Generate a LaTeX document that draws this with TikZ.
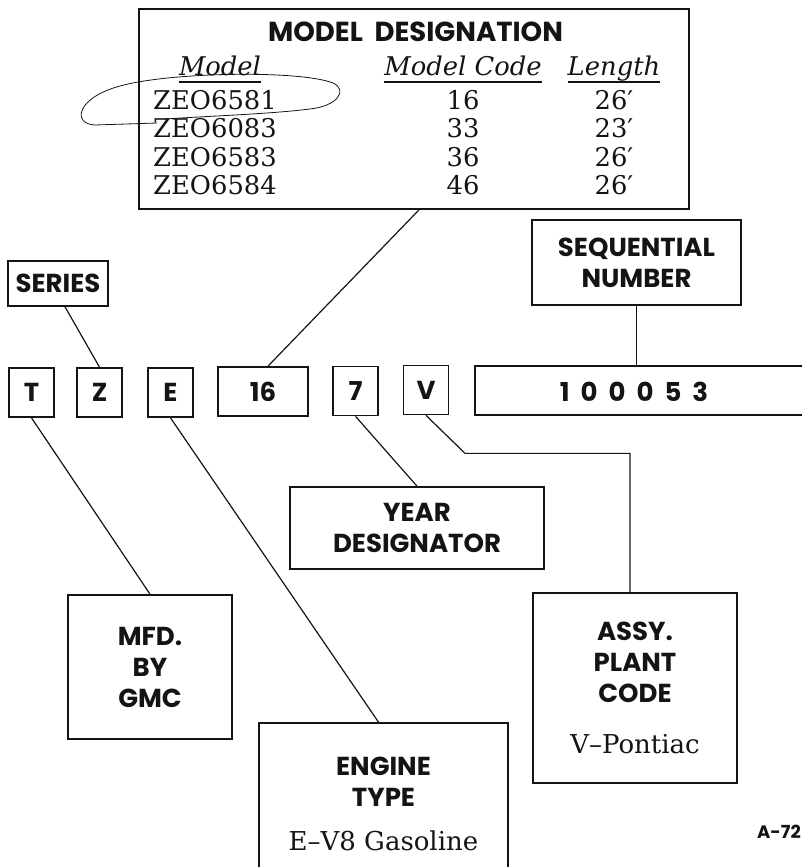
\documentclass[tikz,border=0pt]{standalone}
\usepackage{xcolor}
\usepackage{fontspec}
\usepackage{tikz}
\setmainfont{DejaVu Serif}
\newfontfamily\capsfont{Poppins}
\definecolor{ink}{RGB}{20,20,20}
\tikzset{
  box/.style={draw=ink, line width=1.7pt},
  wire/.style={draw=ink, line width=1.2pt},
  capstext/.style={font=\capsfont\bfseries\fontsize{26}{31}\selectfont, align=center, text=ink},
  plaintext/.style={font=\fontsize{25.8}{28}\selectfont, text=ink, inner sep=0pt},
  colhead/.style={font=\itshape\fontsize{25.8}{28}\selectfont, text=ink, inner sep=0pt, text depth=6pt},
  letterbox/.style={box, capstext, minimum width=45pt, minimum height=49pt, inner sep=0pt},
}

\begin{document}
\begin{tikzpicture}[x=1pt, y=-1pt]
  \useasboundingbox (0,0) rectangle (802,867);

  \node[box, minimum width=550pt, minimum height=200pt] (model) at (414,109) {};
  \node[capstext, font=\capsfont\bfseries\fontsize{27.5}{31}\selectfont] (modeltitle) at (415.5,32) {MODEL\ \ DESIGNATION};
  \node[colhead, anchor=south] (hmodel) at (220,82) {Model};
  \node[colhead, anchor=south] (hcode) at (463,82) {Model Code};
  \node[colhead, anchor=south] (hlength) at (614,82) {Length};
  \foreach \h in {hmodel,hcode,hlength}
    \draw[ink, line width=1.3pt] (\h.south west) -- (\h.south east);
  \foreach \mdl/\code/\len [count=\i] in {ZEO6581/16/26,ZEO6083/33/23,ZEO6583/36/26,ZEO6584/46/26} {
    \node[plaintext, anchor=base west] (mdl\i) at (153,{81.2+28.3*\i}) {\mdl};
    \node[plaintext, anchor=base] (code\i) at (463,{81.2+28.3*\i}) {\code};
    \node[plaintext, anchor=base] (len\i) at (614,{81.2+28.3*\i}) {\len′};
  }
  \draw[ink, line width=0.8pt] (157,123) -- (95,125)
    .. controls (72,124) and (76,98) .. (120,86)
    .. controls (170,72) and (300,70) .. (333,83)
    .. controls (348,90) and (338,106) .. (310,109)
    .. controls (270,114) and (210,116) .. (165,119);

  \node[box, capstext, minimum width=100pt, minimum height=45pt, inner sep=0pt] (series) at (58,283.5) {SERIES};
  \node[box, capstext, minimum width=209pt, minimum height=85pt] (seq) at (636.5,262.5) {SEQUENTIAL\\NUMBER};

  \node[letterbox] (t) at (31.5,392.5) {T};
  \node[letterbox] (z) at (99.5,392.5) {Z};
  \node[letterbox] (e) at (170.5,392.5) {E};
  \node[letterbox, minimum width=90pt] (modelcode) at (263,391.5) {16};
  \node[letterbox] (yr) at (355.5,391) {7};
  \node[letterbox] (plant) at (426,390) {V};
  \node[box, minimum width=360pt, minimum height=49pt, anchor=west] (serial) at (474,390.5) {};
  \node[capstext] (serialno) at (634,392) {\spaceskip=11pt\relax 1 0 0 0 5 3};

  \node[box, capstext, minimum width=254pt, minimum height=82pt] (year) at (417,528) {YEAR\\DESIGNATOR};
  \node[box, capstext, minimum width=164pt, minimum height=144pt] (mfd) at (150,667) {MFD.\\BY\\GMC};
  \node[box, capstext, minimum width=249pt, minimum height=162pt] (engine) at (383.5,804)
    {ENGINE\\TYPE\\[13pt]{\normalfont E–V8 Gasoline}};
  \node[box, capstext, text depth=0pt, minimum width=204pt, minimum height=190pt] (assy) at (635,688)
    {ASSY.\\PLANT\\CODE\\[20pt]{\normalfont V–Pontiac}};
  \node[font=\capsfont\bfseries\fontsize{18}{20}\selectfont, text=ink] (sheet) at (779,832) {A-72};

  \draw[wire] ([xshift=5pt]model.south) -- ([xshift=5pt]modelcode.north);
  \draw[wire] ([xshift=7pt]series.south) -- (z.north);
  \draw[wire] (t.south) -- (mfd.north);
  \draw[wire] (e.south) -- ([xshift=-5pt]engine.north);
  \draw[wire] (yr.south) -- (year.north);
  \draw[wire] (plant.south) -- ++(39,38) -| ([xshift=-5pt]assy.north);
  \draw[wire] (seq.south) -- (seq.south |- serial.north);
\end{tikzpicture}
\end{document}
